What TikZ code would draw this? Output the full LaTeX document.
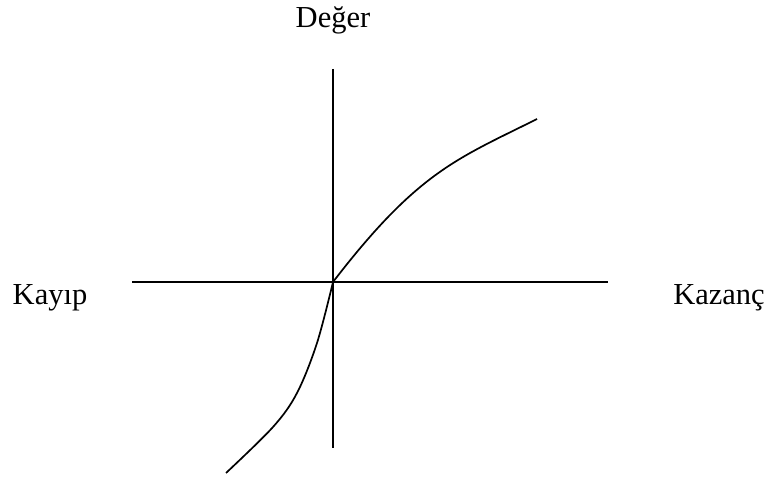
\documentclass[tikz,border=0pt]{standalone}
\usepackage{fontspec}
\setmainfont{Liberation Serif}
\begin{document}
\begin{tikzpicture}[x=1pt,y=-1pt,
  axisline/.style={line width=2pt},
  curveline/.style={line width=1.7pt},
  lbl/.style={font=\fontsize{30.5}{36}\selectfont, inner sep=0pt, anchor=base}]
\useasboundingbox (0,0) rectangle (769,478);
\coordinate (vt) at (333,69);
\coordinate (vb) at (333,448);
\coordinate (hl) at (132,282);
\coordinate (hr) at (608,282);
\coordinate (o) at (333,282);
\coordinate (ce) at (537,119);
\draw[axisline] (vt) -- (vb);
\draw[axisline] (hl) -- (hr);
\draw[curveline] plot[smooth, tension=0.55] coordinates {(226,473) (273,427) (297,393) (317,343) (333,282)};
\draw[curveline] (o) .. controls (418,171.5) and (457,159) .. (ce);
\node[lbl] (deger) at (333,28) {Değer};
\node[lbl] (kayip) at (50,305) {Kayıp};
\node[lbl] (kazanc) at (719,305) {Kazanç};
\end{tikzpicture}
\end{document}
